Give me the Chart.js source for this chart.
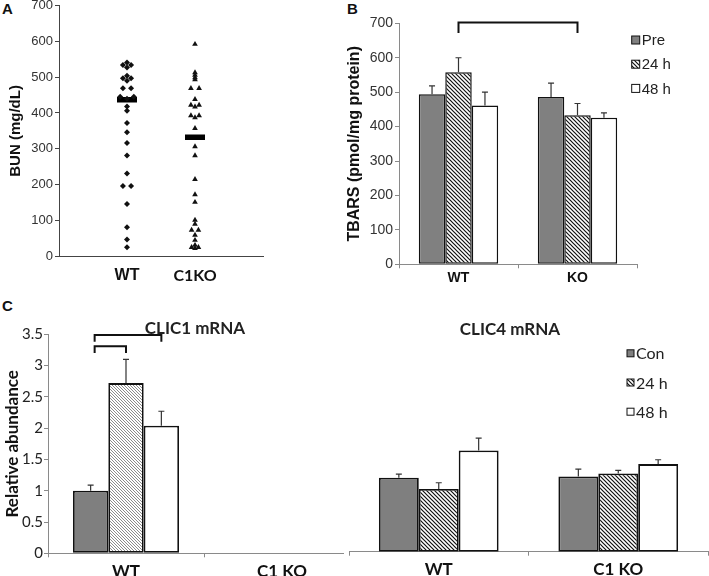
<!DOCTYPE html>
<html>
<head>
<meta charset="utf-8">
<script src="https://cdn.jsdelivr.net/npm/chart.js@4.4.1/dist/chart.umd.min.js"></script>
<style>
  body { margin: 0; width: 709px; height: 576px; overflow: hidden; background: #fff; position: relative; }
  canvas { position: absolute; }
  .tag { position: absolute; font: bold 15px "Liberation Sans", Arial, sans-serif; line-height: 15px; color: #111; }
  .ttl { position: absolute; width: 200px; text-align: center; font: bold 17px Lato, sans-serif; line-height: 17px; color: #222; }
</style>
</head>
<body>
<div class="tag" style="left:2px;top:1px">A</div>
<div class="tag" style="left:347px;top:1px">B</div>
<div class="tag" style="left:2px;top:298px">C</div>

<canvas id="bun" width="300" height="302" style="left:0;top:-10px"></canvas>
<canvas id="tbars" width="379" height="292" style="left:330px;top:0"></canvas>
<canvas id="clic1" width="370" height="290" style="left:0;top:300px"></canvas>
<canvas id="clic4" width="365" height="290" style="left:344px;top:300px;background:#fff"></canvas>

<div class="ttl" style="left:95px;top:319px">CLIC1 mRNA</div>
<div class="ttl" style="left:410px;top:320px">CLIC4 mRNA</div>

<script>
// ---- panel A: BUN, one point per mouse ----
const bunGroups = ['WT', 'C1KO'];
const wtBun  = [541, 534, 534, 527, 504, 497, 497, 490, 469, 469, 445, 445, 440, 418, 406, 372, 346, 316, 281, 231, 196, 196, 146, 81, 47, 25];
const wtBunX = [1, 0.94, 1.06, 1, 1, 0.94, 1.06, 1, 0.94, 1.06, 0.9, 1.1, 1, 1, 1, 1, 1, 1, 1, 1, 0.94, 1.06, 1, 1, 1, 1];
const koBun  = [592, 513, 506, 499, 493, 469, 469, 438, 422, 422, 417, 393, 393, 387, 357, 306, 281, 215, 172, 151, 101, 90, 73, 73, 59, 45, 31, 25, 25, 22];
const koBunX = [2, 2, 2, 2, 2, 1.94, 2.06, 2, 1.94, 2.06, 2, 1.94, 2.06, 2, 2, 2, 2, 2, 2, 2, 2, 2, 1.95, 2.05, 2, 2, 2, 1.95, 2.05, 2];
const bunMeans = [437, 332];

// ---- panel B: TBARS ----
const tbarsGroups = ['WT', 'KO'];
const tbarsSeries = ['Pre', '24 h', '48 h'];
const tbarsPre = [494, 486];
const tbarsPreErr = [24, 40];
const tbars24 = [558, 433];
const tbars24Err = [42, 34];
const tbars48 = [461, 426];
const tbars48Err = [39, 14];

// ---- panel C: CLIC1 / CLIC4 mRNA ----
const clicGroups = ['WT', 'C1 KO'];
const clicSeries = ['Con', '24 h', '48 h'];
const clic1Con = [1.0, null];
const clic1ConErr = [0.09, null];
const clic1H24 = [2.72, null];
const clic1H24Err = [0.38, null];
const clic1H48 = [2.04, null];
const clic1H48Err = [0.23, null];
const clic4Con = [1.19, 1.21];
const clic4ConErr = [0.06, 0.12];
const clic4H24 = [1.01, 1.26];
const clic4H24Err = [0.1, 0.05];
const clic4H48 = [1.63, 1.41];
const clic4H48Err = [0.2, 0.07];

const ARIAL = '"Liberation Sans", Arial, sans-serif';
const CALI = 'Lato, sans-serif';

function hatch(color, gap, lw) {
  const c = document.createElement('canvas');
  c.width = c.height = gap;
  const g = c.getContext('2d');
  g.fillStyle = '#fff';
  g.fillRect(0, 0, gap, gap);
  g.strokeStyle = color;
  g.lineWidth = lw;
  g.beginPath();
  g.moveTo(-1, -1); g.lineTo(gap + 1, gap + 1);
  g.moveTo(-1, gap - 1); g.lineTo(1, gap + 1);
  g.moveTo(gap - 1, -1); g.lineTo(gap + 1, 1);
  g.stroke();
  return g.createPattern(c, 'repeat');
}

const errorBars = {
  id: 'errorBars',
  afterDatasetsDraw(chart, args, opts) {
    const ctx = chart.ctx, y = chart.scales.y;
    chart.data.datasets.forEach((ds, i) => {
      if (!ds.errors) return;
      chart.getDatasetMeta(i).data.forEach((bar, j) => {
        const v = ds.data[j], e = ds.errors[j];
        if (v == null || e == null) return;
        const top = y.getPixelForValue(v + e);
        ctx.save();
        ctx.strokeStyle = opts.color;
        ctx.lineWidth = opts.width;
        ctx.beginPath();
        ctx.moveTo(bar.x, bar.y);
        ctx.lineTo(bar.x, top);
        ctx.moveTo(bar.x - opts.cap, top);
        ctx.lineTo(bar.x + opts.cap, top);
        ctx.stroke();
        ctx.restore();
      });
    });
  }
};

// significance brackets between two bars: [dataset, index] pairs, top value and drop in data units
function bracketPlugin(items) {
  return {
    id: 'brackets',
    afterDraw(chart) {
      const ctx = chart.ctx, y = chart.scales.y;
      items.forEach(b => {
        const x1 = chart.getDatasetMeta(b.a[0]).data[b.a[1]].x + (b.shift || 0);
        const x2 = chart.getDatasetMeta(b.b[0]).data[b.b[1]].x;
        const yt = y.getPixelForValue(b.top), yb = y.getPixelForValue(b.top - b.drop);
        ctx.save();
        ctx.strokeStyle = '#111';
        ctx.lineWidth = 2;
        ctx.beginPath();
        ctx.moveTo(x1, yb); ctx.lineTo(x1, yt); ctx.lineTo(x2, yt); ctx.lineTo(x2, yb);
        ctx.stroke();
        ctx.restore();
      });
    }
  };
}

const boxLegend = {
  id: 'boxLegend',
  afterDraw(chart, args, o) {
    if (!o.x) return;
    const ctx = chart.ctx;
    ctx.save();
    ctx.font = o.font;
    ctx.textBaseline = 'middle';
    chart.data.datasets.forEach((ds, i) => {
      const cy = o.y + i * o.step;
      ctx.fillStyle = ds.backgroundColor;
      ctx.fillRect(o.x, cy - o.box / 2, o.box, o.box);
      ctx.strokeStyle = '#111';
      ctx.lineWidth = 1;
      ctx.strokeRect(o.x, cy - o.box / 2, o.box, o.box);
      ctx.fillStyle = o.color;
      ctx.fillText(ds.label, o.x + o.box + 2, cy + 1);
    });
    ctx.restore();
  }
};

// ---- A ----
new Chart(document.getElementById('bun'), {
  type: 'scatter',
  data: {
    datasets: [
      { data: wtBun.map((v, i) => ({ x: wtBunX[i], y: v })), pointStyle: 'rectRot', radius: 3, backgroundColor: '#111', borderColor: '#111', borderWidth: 0 },
      { data: koBun.map((v, i) => ({ x: koBunX[i], y: v })), pointStyle: 'triangle', radius: 3.3, backgroundColor: '#111', borderColor: '#111', borderWidth: 0 },
      { data: bunMeans.map((v, i) => ({ x: i + 1, y: v })), pointStyle: 'line', radius: 10, borderColor: '#000', borderWidth: 5.5 }
    ]
  },
  options: {
    responsive: false, animation: false,
    layout: { padding: { top: 14.3, right: 37, left: 0, bottom: 0 } },
    plugins: { legend: { display: false }, tooltip: { enabled: false } },
    scales: {
      x: {
        type: 'linear', min: 0, max: 3,
        afterBuildTicks: s => { s.ticks = bunGroups.map((g, i) => ({ value: i + 1 })); },
        afterFit: s => { s.height = 35.7; },
        grid: { display: false, drawTicks: false },
        border: { color: '#444', width: 1 },
        ticks: {
          callback: v => bunGroups[v - 1],
          color: '#111', padding: 10,
          font: c => c.index === 0 ? { family: ARIAL, size: 16, weight: 'bold' } : { family: CALI, size: 16, weight: 'bold' }
        }
      },
      y: {
        min: 0, max: 700,
        afterFit: s => { s.width = 59; },
        grid: { drawOnChartArea: false, tickLength: 4, color: '#444' },
        border: { color: '#444', width: 1 },
        ticks: { stepSize: 100, color: '#333', padding: 2, font: { family: ARIAL, size: 13 } },
        title: { display: true, text: 'BUN (mg/dL)', color: '#111', font: { family: ARIAL, size: 15, weight: 'bold' }, padding: { top: 7, bottom: 0 } }
      }
    }
  }
});

function barChart(id, groups, sets, cfg) {
  return new Chart(document.getElementById(id), {
    type: 'bar',
    data: {
      labels: groups,
      datasets: sets.map(s => ({
        label: s.label, data: s.data, errors: s.err,
        backgroundColor: s.fill, borderColor: '#111', borderWidth: cfg.bw, borderSkipped: false,
        categoryPercentage: cfg.cat, barPercentage: 1
      }))
    },
    plugins: [errorBars, bracketPlugin(cfg.brackets), boxLegend],
    options: {
      responsive: false, animation: false,
      layout: { padding: cfg.pad },
      plugins: {
        legend: { display: false }, tooltip: { enabled: false },
        errorBars: { color: '#333', width: 1.2, cap: 3 },
        boxLegend: cfg.legend
      },
      scales: {
        x: {
          afterFit: s => { s.height = cfg.xh; },
          grid: { offset: true, drawOnChartArea: false, tickLength: 4, color: cfg.axis },
          border: { color: cfg.axis, width: 1 },
          ticks: { color: '#111', padding: cfg.xpad, font: cfg.xfont }
        },
        y: {
          display: cfg.ydisp, min: 0, max: cfg.ymax,
          afterFit: s => { s.width = cfg.yw; },
          grid: { drawOnChartArea: false, tickLength: 4, color: cfg.axis },
          border: { color: cfg.axis, width: 1 },
          ticks: { stepSize: cfg.step, color: cfg.tickColor, padding: cfg.ypad, font: cfg.yfont, callback: v => String(v) },
          title: { display: !!cfg.ytitle, text: cfg.ytitle, color: '#111', font: cfg.ytfont, padding: { top: cfg.ytpad, bottom: 0 } }
        }
      }
    }
  });
}

// ---- B ----
barChart('tbars', tbarsGroups, [
  { label: tbarsSeries[0], data: tbarsPre, err: tbarsPreErr, fill: '#808080' },
  { label: tbarsSeries[1], data: tbars24, err: tbars24Err, fill: hatch('#111', 4, 1.2) },
  { label: tbarsSeries[2], data: tbars48, err: tbars48Err, fill: '#fff' }
], {
  bw: 1.5, cat: 0.667, pad: { top: 23.3, right: 72, left: 0, bottom: 0 },
  xh: 27.7, xpad: 1, xfont: { family: ARIAL, size: 14, weight: 'bold' }, axis: '#8a8a8a',
  ydisp: true, ymax: 700, step: 100, yw: 69, ypad: 2, tickColor: '#333', yfont: { family: ARIAL, size: 14 },
  ytitle: 'TBARS (pmol/mg protein)', ytfont: { family: ARIAL, size: 16, weight: 'bold' }, ytpad: 15,
  brackets: [{ a: [1, 0], b: [1, 1], top: 702, drop: 30 }],
  legend: { x: 301.7, y: 40, step: 24.2, box: 8, font: '15px ' + ARIAL, color: '#222' }
});

// ---- C left: CLIC1 ----
barChart('clic1', clicGroups, [
  { label: clicSeries[0], data: clic1Con, err: clic1ConErr, fill: '#7f7f7f' },
  { label: clicSeries[1], data: clic1H24, err: clic1H24Err, fill: hatch('#8c8c8c', 3, 1) },
  { label: clicSeries[2], data: clic1H48, err: clic1H48Err, fill: '#fff' }
], {
  bw: 1.8, cat: 0.68, pad: { top: 34.3, right: 10, left: 0, bottom: 0 },
  xh: 36.7, xpad: 4, xfont: { family: CALI, size: 17, weight: 'bold' }, axis: '#8a8a8a',
  ydisp: true, ymax: 3.5, step: 0.5, yw: 48, ypad: 1, tickColor: '#222', yfont: { family: CALI, size: 15 },
  ytitle: 'Relative abundance', ytfont: { family: CALI, size: 17, weight: 'bold' }, ytpad: 2,
  brackets: [
    { a: [0, 0], b: [2, 0], top: 3.49, drop: 0.11, shift: 4 },
    { a: [0, 0], b: [1, 0], top: 3.31, drop: 0.11, shift: 4 }
  ],
  legend: {}
});

// ---- C right: CLIC4 ----
barChart('clic4', clicGroups, [
  { label: clicSeries[0], data: clic4Con, err: clic4ConErr, fill: '#7f7f7f' },
  { label: clicSeries[1], data: clic4H24, err: clic4H24Err, fill: hatch('#111', 4, 1.2) },
  { label: clicSeries[2], data: clic4H48, err: clic4H48Err, fill: '#fff' }
], {
  bw: 1.8, cat: 0.667, pad: { top: 34.3, right: 1, left: 5, bottom: 0 },
  xh: 38.3, xpad: 4, xfont: { family: CALI, size: 17, weight: 'bold' }, axis: '#8a8a8a',
  ydisp: false, ymax: 3.5, step: 0.5, yw: 0, ypad: 1, tickColor: '#222', yfont: { family: CALI, size: 15 },
  ytitle: '', ytfont: { family: CALI, size: 15 }, ytpad: 0,
  brackets: [],
  legend: { x: 283, y: 53.3, step: 29.2, box: 7, font: '16px ' + CALI, color: '#222' }
});
</script>
</body>
</html>
